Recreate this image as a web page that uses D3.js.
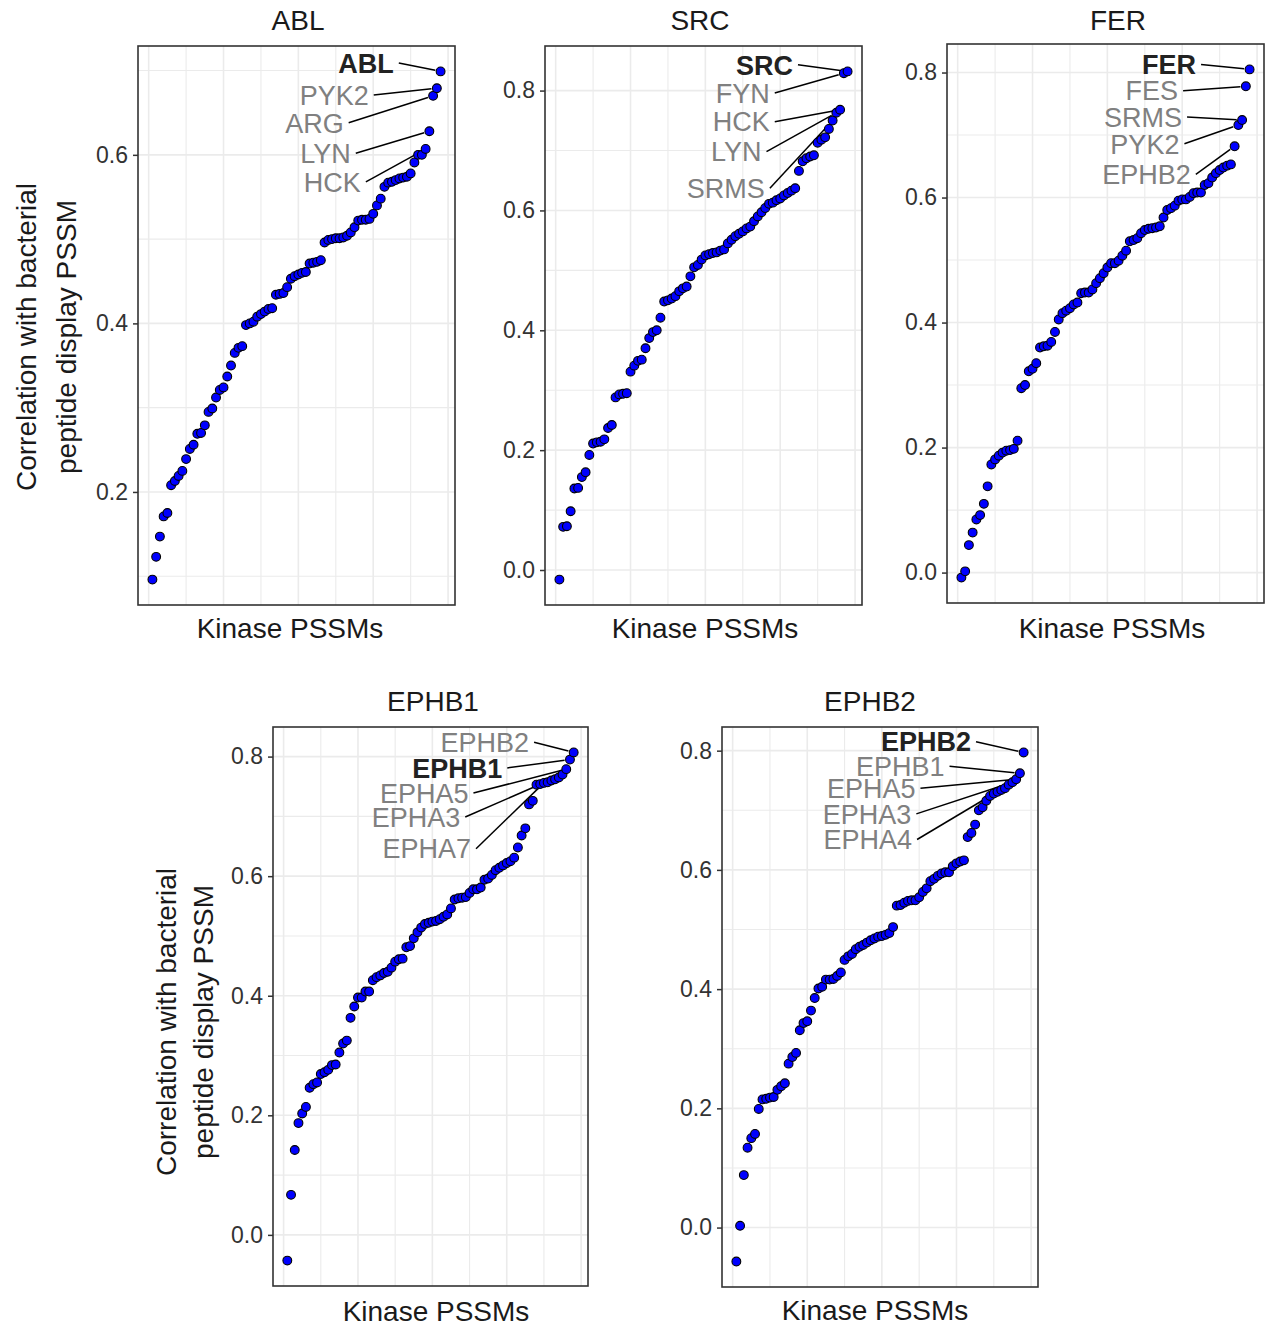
<!DOCTYPE html>
<html>
<head>
<meta charset="utf-8">
<script src="https://cdn.jsdelivr.net/npm/d3@7"></script>
<style>
  body { margin: 0; background: #fff; }
  text { font-family: "Liberation Sans", Arial, Helvetica, sans-serif; }
</style>
</head>
<body>
<svg id="chart" width="1265" height="1327"></svg>
<script>
// correlation of each kinase PSSM with the bacterial display PSSM, sorted (rank 1..78)
const ablValues = [0.096,0.123,0.147,0.171,0.175,0.208,0.213,0.219,0.225,0.239,
  0.251,0.256,0.269,0.270,0.279,0.295,0.299,0.312,0.321,0.324,
  0.337,0.350,0.365,0.371,0.373,0.398,0.400,0.402,0.408,0.411,
  0.414,0.417,0.418,0.434,0.435,0.436,0.443,0.453,0.456,0.458,
  0.460,0.461,0.471,0.472,0.473,0.475,0.496,0.499,0.500,0.501,
  0.501,0.502,0.504,0.508,0.514,0.522,0.523,0.523,0.524,0.530,
  0.540,0.548,0.562,0.567,0.568,0.570,0.572,0.573,0.574,0.578,
  0.591,0.600,0.600,0.607,0.628,0.670,0.679,0.699];

const srcValues = [-0.016,0.072,0.073,0.098,0.136,0.137,0.155,0.163,0.192,0.211,
  0.213,0.214,0.218,0.237,0.242,0.288,0.293,0.294,0.295,0.331,
  0.341,0.349,0.351,0.370,0.387,0.397,0.400,0.421,0.448,0.450,
  0.453,0.457,0.465,0.470,0.473,0.490,0.505,0.509,0.518,0.525,
  0.527,0.529,0.530,0.533,0.535,0.545,0.551,0.557,0.561,0.565,
  0.570,0.573,0.582,0.590,0.597,0.604,0.611,0.613,0.617,0.620,
  0.625,0.629,0.633,0.637,0.666,0.682,0.687,0.690,0.692,0.713,
  0.718,0.722,0.736,0.750,0.763,0.768,0.829,0.832];

const ferValues = [-0.008,0.002,0.044,0.064,0.085,0.092,0.110,0.138,0.173,0.181,
  0.187,0.192,0.195,0.196,0.198,0.211,0.295,0.300,0.322,0.326,
  0.335,0.360,0.362,0.363,0.369,0.385,0.405,0.415,0.419,0.423,
  0.429,0.432,0.447,0.448,0.448,0.453,0.463,0.471,0.479,0.488,
  0.495,0.495,0.499,0.507,0.515,0.530,0.532,0.535,0.543,0.548,
  0.550,0.551,0.552,0.554,0.568,0.580,0.583,0.587,0.595,0.597,
  0.597,0.601,0.607,0.608,0.608,0.620,0.623,0.632,0.639,0.644,
  0.648,0.651,0.653,0.682,0.716,0.724,0.778,0.805];

const ephb1Values = [-0.043,0.067,0.142,0.187,0.203,0.214,0.246,0.252,0.255,0.269,
  0.272,0.276,0.284,0.285,0.305,0.320,0.325,0.363,0.382,0.397,
  0.397,0.407,0.407,0.426,0.431,0.434,0.438,0.440,0.447,0.457,
  0.461,0.462,0.481,0.483,0.496,0.506,0.514,0.520,0.522,0.524,
  0.525,0.528,0.532,0.536,0.546,0.561,0.563,0.564,0.565,0.572,
  0.578,0.578,0.581,0.594,0.596,0.602,0.610,0.614,0.618,0.622,
  0.625,0.631,0.648,0.668,0.680,0.720,0.726,0.753,0.754,0.756,
  0.757,0.760,0.762,0.765,0.770,0.779,0.795,0.807];

const ephb2Values = [-0.057,0.003,0.088,0.134,0.150,0.157,0.199,0.215,0.216,0.218,
  0.219,0.231,0.237,0.242,0.275,0.286,0.293,0.331,0.343,0.346,
  0.364,0.385,0.401,0.404,0.416,0.416,0.417,0.422,0.428,0.449,
  0.455,0.459,0.467,0.471,0.474,0.478,0.482,0.485,0.488,0.489,
  0.491,0.494,0.504,0.540,0.541,0.545,0.548,0.549,0.549,0.554,
  0.563,0.569,0.581,0.585,0.590,0.594,0.596,0.596,0.606,0.611,
  0.614,0.616,0.655,0.662,0.676,0.700,0.705,0.716,0.724,0.728,
  0.731,0.734,0.737,0.743,0.747,0.752,0.762,0.797];

// labelled kinases: name, rank of the point, query kinase in bold
const ablLabels = [["ABL",78,true],["PYK2",77,false],["ARG",76,false],["LYN",75,false],["HCK",74,false]];
const srcLabels = [["SRC",78,true],["FYN",77,false],["HCK",76,false],["LYN",75,false],["SRMS",74,false]];
const ferLabels = [["FER",78,true],["FES",77,false],["SRMS",76,false],["PYK2",75,false],["EPHB2",74,false]];
const ephb1Labels = [["EPHB2",78,false],["EPHB1",77,true],["EPHA5",76,false],["EPHA3",75,false],["EPHA7",70,false]];
const ephb2Labels = [["EPHB2",78,true],["EPHB1",77,false],["EPHA5",76,false],["EPHA3",75,false],["EPHA4",69,false]];

// where the repelled labels ended up (right end of text, in rank / correlation units)
const ablPlace = [[65.5,0.709],[58.8,0.671],[52.1,0.638],[54.0,0.602],[56.7,0.568]];
const srcPlace = [[63.4,0.843],[57.2,0.796],[57.2,0.748],[55.0,0.698],[55.9,0.637]];
const ferPlace = [[63.7,0.813],[58.9,0.771],[59.95,0.729],[59.25,0.686],[62.3,0.637]];
const ephb1Place = [[66.0,0.824],[58.8,0.781],[49.7,0.739],[47.5,0.699],[50.4,0.646]];
const ephb2Place = [[63.9,0.815],[56.8,0.774],[49.0,0.737],[47.9,0.694],[48.1,0.651]];

const panels = [
  {title:"ABL", values:ablValues, labels:ablLabels, place:ablPlace,
   box:[138,46,455,605], titleX:298, titleY:30, xlabX:290, xlabY:638, ylab:{x1:36, x2:76, y:337}},
  {title:"SRC", values:srcValues, labels:srcLabels, place:srcPlace,
   box:[545,46,862,605], titleX:700, titleY:30, xlabX:705, xlabY:638},
  {title:"FER", values:ferValues, labels:ferLabels, place:ferPlace,
   box:[947,44,1264,603], titleX:1118, titleY:30, xlabX:1112, xlabY:638},
  {title:"EPHB1", values:ephb1Values, labels:ephb1Labels, place:ephb1Place,
   box:[273,727,588,1286], titleX:433, titleY:711, xlabX:436, xlabY:1321, ylab:{x1:176, x2:213, y:1022}},
  {title:"EPHB2", values:ephb2Values, labels:ephb2Labels, place:ephb2Place,
   box:[722,727,1038,1287], titleX:870, titleY:711, xlabX:875, xlabY:1320}
];

const svg = d3.select("#chart");
const r = 4.4;

panels.forEach(drawPanel);

function drawPanel(p) {
  const [x0, y0, x1, y1] = p.box;
  const n = p.values.length;
  const xPad = 0.05 * (n - 1);
  const x = d3.scaleLinear().domain([1 - xPad, n + xPad]).range([x0, x1]);
  const ext = d3.extent(p.values);
  const yPad = 0.05 * (ext[1] - ext[0]);
  const y = d3.scaleLinear().domain([ext[0] - yPad, ext[1] + yPad]).range([y1, y0]);

  const g = svg.append("g");

  // grid lines (every 10 ranks, every 0.1 correlation)
  const xd = x.domain(), yd = y.domain();
  const xGrid = d3.range(Math.ceil(xd[0] / 10), Math.floor(xd[1] / 10) + 1);
  const yGrid = d3.range(Math.ceil(yd[0] * 10), Math.floor(yd[1] * 10) + 1);

  g.selectAll(".gx").data(xGrid).join("line")
    .attr("class", "gx")
    .attr("x1", k => x(k * 10)).attr("x2", k => x(k * 10))
    .attr("y1", y0).attr("y2", y1)
    .attr("stroke", "#ebebeb")
    .attr("stroke-width", k => k % 2 === 0 ? 1.6 : 1.1);

  g.selectAll(".gy").data(yGrid).join("line")
    .attr("class", "gy")
    .attr("x1", x0).attr("x2", x1)
    .attr("y1", k => y(k / 10)).attr("y2", k => y(k / 10))
    .attr("stroke", "#ebebeb")
    .attr("stroke-width", k => Math.abs(k) % 2 === 0 ? 1.6 : 1.1);

  // y axis
  const majors = yGrid.filter(k => Math.abs(k) % 2 === 0).map(k => k / 10);
  const ag = g.append("g")
    .attr("transform", `translate(${x0},0)`)
    .call(d3.axisLeft(y).tickValues(majors).tickFormat(d3.format(".1f")).tickSize(5).tickPadding(5));
  ag.select(".domain").remove();
  ag.selectAll("line").attr("stroke", "#333").attr("stroke-width", 1.5);
  ag.selectAll("text")
    .attr("font-size", 23)
    .attr("fill", "#333")
    .attr("font-family", '"Liberation Sans", Arial, sans-serif');

  // label segments
  const segs = p.labels.map((l, i) => {
    const px = x(l[1]), py = y(p.values[l[1] - 1]);
    const sx = x(p.place[i][0]) + 5, sy = y(p.place[i][1]);
    const dx = px - sx, dy = py - sy, len = Math.hypot(dx, dy);
    return {sx, sy, ex: px - dx / len * (r + 1), ey: py - dy / len * (r + 1)};
  });
  g.selectAll(".seg").data(segs).join("line")
    .attr("class", "seg")
    .attr("x1", d => d.sx).attr("y1", d => d.sy)
    .attr("x2", d => d.ex).attr("y2", d => d.ey)
    .attr("stroke", "#000").attr("stroke-width", 1.5);

  // points
  g.selectAll(".pt").data(p.values).join("circle")
    .attr("class", "pt")
    .attr("cx", (d, i) => x(i + 1))
    .attr("cy", d => y(d))
    .attr("r", r)
    .attr("fill", "#0000ff")
    .attr("stroke", "#000")
    .attr("stroke-width", 1.1);

  // labels
  g.selectAll(".lab").data(p.labels).join("text")
    .attr("class", "lab")
    .attr("x", (l, i) => x(p.place[i][0]))
    .attr("y", (l, i) => y(p.place[i][1]))
    .attr("dy", "0.36em")
    .attr("text-anchor", "end")
    .attr("font-size", 27)
    .attr("font-weight", l => l[2] ? "bold" : "normal")
    .attr("fill", l => l[2] ? "#222" : "#808080")
    .text(l => l[0]);

  // panel border
  g.append("rect")
    .attr("x", x0).attr("y", y0)
    .attr("width", x1 - x0).attr("height", y1 - y0)
    .attr("fill", "none").attr("stroke", "#333").attr("stroke-width", 1.6);

  // titles
  g.append("text")
    .attr("x", p.titleX).attr("y", p.titleY)
    .attr("text-anchor", "middle")
    .attr("font-size", 28).attr("fill", "#1a1a1a")
    .text(p.title);

  g.append("text")
    .attr("x", p.xlabX).attr("y", p.xlabY)
    .attr("text-anchor", "middle")
    .attr("font-size", 28).attr("fill", "#1a1a1a")
    .text("Kinase PSSMs");

  if (p.ylab) {
    [["Correlation with bacterial", p.ylab.x1], ["peptide display PSSM", p.ylab.x2]].forEach(t => {
      g.append("text")
        .attr("transform", `translate(${t[1]},${p.ylab.y}) rotate(-90)`)
        .attr("text-anchor", "middle")
        .attr("font-size", 28).attr("fill", "#1a1a1a")
        .text(t[0]);
    });
  }
}
</script>
</body>
</html>
